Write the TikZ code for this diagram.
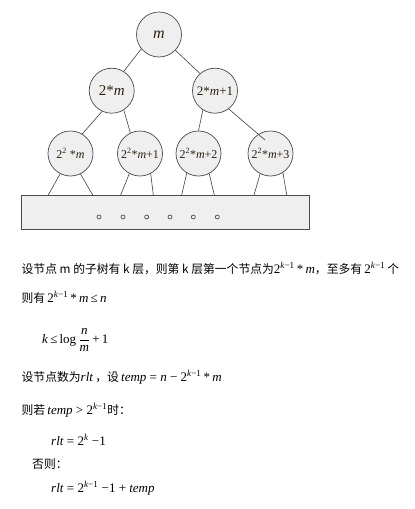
\documentclass[tikz,border=0pt]{standalone}
\usepackage{fontspec}
\setmainfont{Liberation Serif}
\newfontfamily\cjk{Noto Sans CJK SC}
\newcommand\zh[1]{{\cjk\fontsize{11.8}{13}\selectfont #1}}
\newcommand\km{\textsuperscript{\textit{k}−1}}
\definecolor{lbl}{HTML}{2B2010}
\definecolor{circfill}{HTML}{EFEFEF}
\definecolor{circline}{HTML}{4A4A55}
\begin{document}
\begin{tikzpicture}[x=1pt,y=-1pt,
  circ/.style={circle,draw=circline,fill=circfill,minimum size=45pt,inner sep=0pt,line width=0.7pt,text=lbl},
  edge/.style={draw=black!75,line width=0.6pt},
  dot/.style={circle,draw=black!80,minimum size=4pt,inner sep=0pt,line width=0.6pt},
  txt/.style={anchor=base west,inner sep=0pt,font=\fontsize{13}{15}\selectfont}]
\useasboundingbox (0,0) rectangle (415,509);
% tree nodes
\node[circ,font=\fontsize{16}{18}\selectfont] (r) at (159,34.5) {\textit{m}};
\node[circ,font=\fontsize{15}{17}\selectfont] (a) at (111.7,90.7) {2*\textit{m}};
\node[circ,font=\fontsize{13}{15}\selectfont] (b) at (215,90.7) {2*\textit{m}+1};
\node[circ,font=\fontsize{12}{14}\selectfont] (l1) at (70.5,153.5) {2\textsuperscript{2} *\textit{m}};
\node[circ,font=\fontsize{12}{14}\selectfont] (l2) at (140,153.5) {2\textsuperscript{2}*\textit{m}+1};
\node[circ,font=\fontsize{12}{14}\selectfont] (l3) at (198.5,153.5) {2\textsuperscript{2}*\textit{m}+2};
\node[circ,font=\fontsize{12}{14}\selectfont] (l4) at (270.5,153.5) {2\textsuperscript{2}*\textit{m}+3};
% box
\node[draw=circline,fill=circfill,line width=0.7pt,minimum width=288.6pt,minimum height=34.3pt,inner sep=0pt,anchor=north west] (box) at (20.7,195) {};
\foreach \i/\x in {1/99,2/123,3/146.7,4/170,5/193.3,6/217.3}
  \node[dot] (d\i) at (\x,217) {};
% edges
\draw[edge] (r.219) -- (a.58);
\draw[edge] (r.316) -- (b.131);
\draw[edge] (a.245) -- (l1.59);
\draw[edge] (a.302) -- (l2.115);
\draw[edge] (b.238) -- (l3.90);
\coordinate (l4in) at (265,140);
\draw[edge] (b.307) -- (l4in);
\coordinate (t1a) at (48.3,195);  \coordinate (t1b) at (92.7,195);
\coordinate (t2a) at (120.7,195); \coordinate (t2b) at (153.3,195);
\coordinate (t3a) at (181.7,195); \coordinate (t3b) at (214.3,195);
\coordinate (t4a) at (254,195);   \coordinate (t4b) at (286.7,195);
\draw[edge] (l1.243) -- (t1a); \draw[edge] (l1.296) -- (t1b);
\draw[edge] (l2.242) -- (t2a); \draw[edge] (l2.298) -- (t2b);
\draw[edge] (l3.239) -- (t3a); \draw[edge] (l3.298) -- (t3b);
\draw[edge] (l4.243) -- (t4a); \draw[edge] (l4.303) -- (t4b);
% text
\node[txt] (t1) at (21.5,273) {\zh{设节点 m 的子树有 k 层，则第 k 层第一个节点为}2\km\,*\,\textit{m}\zh{，至多有}\,2\km\,\zh{个}};
\node[txt] (t2) at (21.5,302) {\zh{则有}\,2\km\,*\,\textit{m}\,≤\,\textit{n}};
\node[txt] (t3) at (42,343) {\textit{k}\,≤\,log\,$\displaystyle\frac{\textit{n}}{\textit{m}}$\,+\,1};
\node[txt] (t4) at (21.5,381) {\zh{设节点数为}\textit{rlt}\,\zh{，设}\,\textit{temp} = \textit{n} − 2\km\,*\,\textit{m}};
\node[txt] (t5) at (21.5,414) {\zh{则若}\,\textit{temp} > 2\km\zh{时：}};
\node[txt] (t6) at (51,445) {\textit{rlt} = 2\textsuperscript{\textit{k}} −1};
\node[txt] (t7) at (32,468) {\zh{否则：}};
\node[txt] (t8) at (51,492) {\textit{rlt} = 2\km\ −1 + \textit{temp}};
\end{tikzpicture}
\end{document}
